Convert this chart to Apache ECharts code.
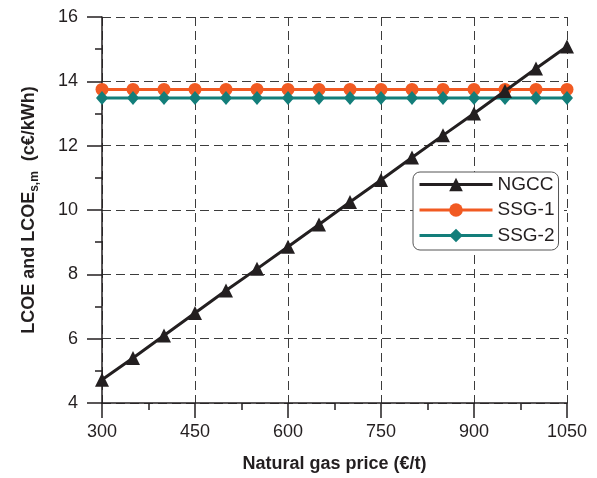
<!DOCTYPE html>
<html>
<head>
<meta charset="utf-8">
<script src="https://cdn.jsdelivr.net/npm/echarts@6/dist/echarts.min.js"></script>
<style>
html,body{margin:0;padding:0;background:#fff;}
#chart{width:597px;height:478px;}
</style>
</head>
<body>
<div id="chart"></div>
<script>
const gasPrice = [300,350,400,450,500,550,600,650,700,750,800,850,900,950,1000,1050];
const ngcc = [4.72,5.4,6.1,6.8,7.5,8.17,8.86,9.55,10.25,10.93,11.63,12.32,13.0,13.7,14.4,15.08];
const ssg1 = [13.75,13.75,13.75,13.75,13.75,13.75,13.75,13.75,13.75,13.75,13.75,13.75,13.75,13.75,13.75,13.75];
const ssg2 = [13.48,13.48,13.48,13.48,13.48,13.48,13.48,13.48,13.48,13.48,13.48,13.48,13.48,13.48,13.48,13.48];
const seriesNames = ['NGCC','SSG-1','SSG-2'];

const pair = (ys) => gasPrice.map((x,i)=>[x, ys[i]]);
const FONT = '"Liberation Sans", Arial, sans-serif';
const gridDash = { color:'#3c3c3c', width:1, type:[9,5] };

const chart = echarts.init(document.getElementById('chart'), null, {renderer:'canvas'});
chart.setOption({
  animation:false,
  backgroundColor:'#fff',
  textStyle:{fontFamily:FONT},
  grid:{left:102, right:30, top:17, bottom:74, containLabel:false},
  legend:{
    data:seriesNames,
    orient:'vertical',
    left:413, top:172,
    padding:[3,4,5,5],
    itemWidth:73, itemHeight:17, itemGap:6.5,
    backgroundColor:'#fff',
    borderColor:'#555', borderWidth:1, borderRadius:7,
    lineStyle:{width:3},
    textStyle:{fontSize:19, color:'#231f20', fontFamily:FONT}
  },
  xAxis:{
    type:'value', min:300, max:1050, interval:150,
    name:'Natural gas price (€/t)', nameLocation:'middle', nameGap:52,
    nameTextStyle:{fontSize:18, fontWeight:'bold', color:'#231f20', fontFamily:FONT},
    axisLine:{show:true, onZero:false, lineStyle:{color:'#231f20', width:1.5}},
    axisTick:{show:true, length:15, lineStyle:{color:'#231f20', width:1.5}},
    minorTick:{show:true, splitNumber:2, length:7, lineStyle:{color:'#231f20', width:1.5}},
    axisLabel:{fontSize:18, color:'#231f20', margin:20, fontFamily:FONT, formatter:(v)=>String(v)},
    splitLine:{show:true, lineStyle:gridDash}
  },
  yAxis:{
    type:'value', min:4, max:16, interval:2,
    name:'{b|LCOE and LCOE}{s|s,m}{b|  (c€/kWh)}',
    nameLocation:'middle', nameRotate:90, nameGap:61,
    nameTextStyle:{
      color:'#231f20', fontFamily:FONT,
      rich:{
        b:{fontSize:18, fontWeight:'bold', lineHeight:24, verticalAlign:'middle', color:'#231f20', fontFamily:FONT},
        s:{fontSize:12, fontWeight:'bold', lineHeight:12, verticalAlign:'bottom', color:'#231f20', fontFamily:FONT}
      }
    },
    axisLine:{show:true, onZero:false, lineStyle:{color:'#231f20', width:1.5}},
    axisTick:{show:true, length:15, lineStyle:{color:'#231f20', width:1.5}},
    minorTick:{show:true, splitNumber:2, length:7, lineStyle:{color:'#231f20', width:1.5}},
    axisLabel:{fontSize:18, color:'#231f20', margin:24, fontFamily:FONT, formatter:(v)=>String(v)},
    splitLine:{show:true, lineStyle:gridDash}
  },
  series:[
    {name:'NGCC', type:'line', data:pair(ngcc), symbol:'triangle', symbolSize:14,
     lineStyle:{color:'#231f20', width:3}, itemStyle:{color:'#231f20'}, z:3},
    {name:'SSG-1', type:'line', data:pair(ssg1), symbol:'circle', symbolSize:13,
     lineStyle:{color:'#f15a22', width:3}, itemStyle:{color:'#f15a22'}, z:2},
    {name:'SSG-2', type:'line', data:pair(ssg2), symbol:'diamond', symbolSize:[12,14],
     lineStyle:{color:'#137e7a', width:3}, itemStyle:{color:'#137e7a'}, z:2}
  ]
});
</script>
</body>
</html>
